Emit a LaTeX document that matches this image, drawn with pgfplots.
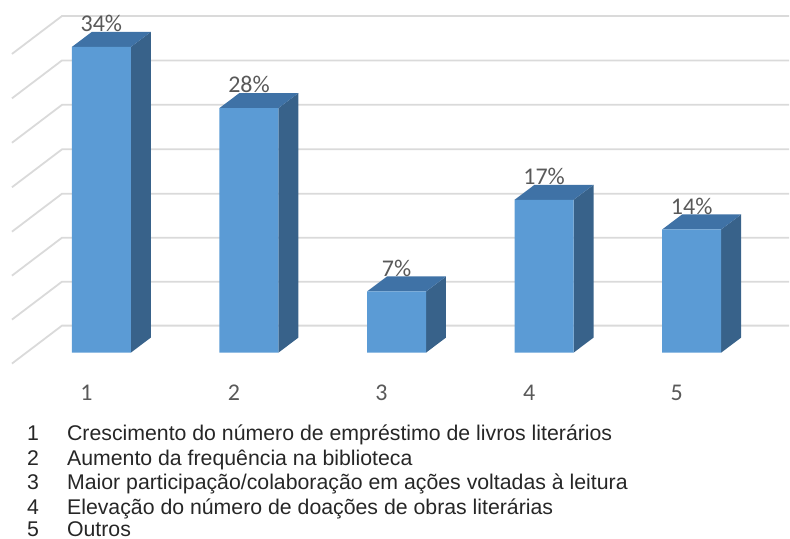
\documentclass[border=0pt]{standalone}
\usepackage{pgfplots}
\pgfplotsset{compat=1.18}
\usepackage{pgfplotstable}
\usepackage{fontspec}
\setmainfont{Carlito}
\newfontfamily\legfont{Liberation Sans}
\definecolor{front}{HTML}{5B9BD5}
\definecolor{sidec}{HTML}{38628A}
\definecolor{topc}{HTML}{3F72A6}
\definecolor{gridc}{HTML}{DADADA}
\definecolor{labc}{HTML}{595959}
\pgfplotstableread{
x y lab
1 34.0 34
2 27.2 28
3 6.8 7
4 17.0 17
5 13.7 14
}\bars
\pgfplotsset{
  gl/.style={gridc,line width=1.8pt,forget plot},
  sd/.style={fill=sidec,draw=none,forget plot},
  tp/.style={fill=topc,draw=none,forget plot},
}
\begin{document}
\begin{tikzpicture}
\begin{axis}[
  scale only axis,width=790pt,height=539pt,
  xmin=0.313,xmax=5.66,ymin=-20.667,ymax=39.222,
  axis line style={draw=none},
  major tick length=0pt,
  xtick={1,2,3,4,5},ytick=\empty,
  xtick pos=bottom,
  /pgf/number format/assume math mode=true,
  x tick label style={anchor=center,xshift=-15pt,yshift=146pt,text=labc,font=\fontsize{24}{28}\selectfont},
  clip=false,
]
% back wall gridlines
\addplot[gl] coordinates {(0.394,33.22)(0.733,37.44)(5.66,37.44)};
\addplot[gl] coordinates {(0.394,28.28)(0.733,32.50)(5.66,32.50)};
\addplot[gl] coordinates {(0.394,23.34)(0.733,27.56)(5.66,27.56)};
\addplot[gl] coordinates {(0.394,18.39)(0.733,22.61)(5.66,22.61)};
\addplot[gl] coordinates {(0.394,13.45)(0.733,17.67)(5.66,17.67)};
\addplot[gl] coordinates {(0.394,8.56)(0.733,12.78)(5.66,12.78)};
\addplot[gl] coordinates {(0.394,3.67)(0.733,7.89)(5.66,7.89)};
\addplot[gl] coordinates {(0.394,-1.22)(0.733,3.00)(5.66,3.00)};
% side faces
\addplot[sd] coordinates {(1.2,0)(1.335,1.667)(1.335,35.667)(1.2,34.0)} --cycle;
\addplot[sd] coordinates {(2.2,0)(2.335,1.667)(2.335,28.867)(2.2,27.2)} --cycle;
\addplot[sd] coordinates {(3.2,0)(3.335,1.667)(3.335,8.467)(3.2,6.8)} --cycle;
\addplot[sd] coordinates {(4.2,0)(4.335,1.667)(4.335,18.667)(4.2,17.0)} --cycle;
\addplot[sd] coordinates {(5.2,0)(5.335,1.667)(5.335,15.367)(5.2,13.7)} --cycle;
% top faces
\addplot[tp] coordinates {(0.8,34.0)(1.2,34.0)(1.335,35.667)(0.935,35.667)} --cycle;
\addplot[tp] coordinates {(1.8,27.2)(2.2,27.2)(2.335,28.867)(1.935,28.867)} --cycle;
\addplot[tp] coordinates {(2.8,6.8)(3.2,6.8)(3.335,8.467)(2.935,8.467)} --cycle;
\addplot[tp] coordinates {(3.8,17.0)(4.2,17.0)(4.335,18.667)(3.935,18.667)} --cycle;
\addplot[tp] coordinates {(4.8,13.7)(5.2,13.7)(5.335,15.367)(4.935,15.367)} --cycle;
% front faces with labels
\addplot[ybar,bar width=0.4,fill=front,draw=none,
  point meta=explicit symbolic,
  nodes near coords={\pgfplotspointmeta\%},
  every node near coord/.append style={anchor=center,yshift=23.5pt,text=labc,font=\fontsize{24}{28}\selectfont},
] table[x=x,y=y,meta=lab] {\bars};
% legend text
\begin{scope}[every node/.style={anchor=base west,inner sep=0pt,text=black!85,font=\legfont\fontsize{21.3}{25}\selectfont}]
\node at (rel axis cs:0.0342,0.1809) {1};
\node at (rel axis cs:0.0848,0.1809) {Crescimento do número de empréstimo de livros literários};
\node at (rel axis cs:0.0342,0.1354) {2};
\node at (rel axis cs:0.0848,0.1354) {Aumento da frequência na biblioteca};
\node at (rel axis cs:0.0342,0.0909) {3};
\node at (rel axis cs:0.0848,0.0909) {Maior participação/colaboração em ações voltadas à leitura};
\node at (rel axis cs:0.0342,0.0445) {4};
\node at (rel axis cs:0.0848,0.0445) {Elevação do número de doações de obras literárias};
\node at (rel axis cs:0.0342,0.0028) {5};
\node at (rel axis cs:0.0848,0.0028) {Outros};
\end{scope}
\end{axis}
\end{tikzpicture}
\end{document}
